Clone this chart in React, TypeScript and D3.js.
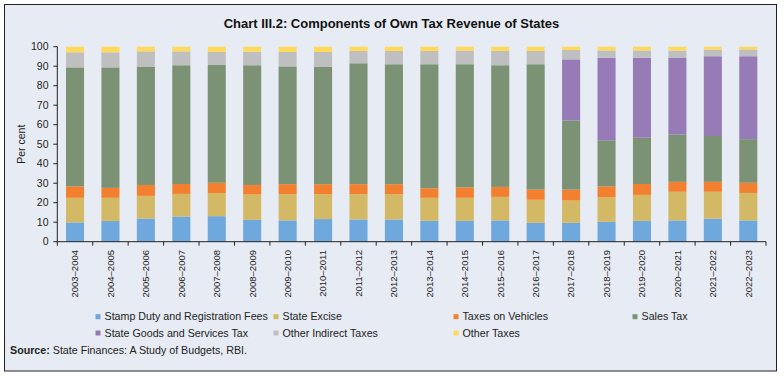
import React from "react";
import * as d3 from "d3";

const years = [
  "2003-2004", "2004-2005", "2005-2006", "2006-2007", "2007-2008",
  "2008-2009", "2009-2010", "2010-2011", "2011-2012", "2012-2013",
  "2013-2014", "2014-2015", "2015-2016", "2016-2017", "2017-2018",
  "2018-2019", "2019-2020", "2020-2021", "2021-2022", "2022-2023",
];

const seriesNames = [
  "Stamp Duty and Registration Fees",
  "State Excise",
  "Taxes on Vehicles",
  "Sales Tax",
  "State Goods and Services Tax",
  "Other Indirect Taxes",
  "Other Taxes",
];

const stampDuty = [9.9, 10.6, 11.9, 12.9, 13.1, 11.2, 10.9, 11.6, 11.4, 11.4, 10.7, 10.7, 10.9, 9.7, 9.7, 10.2, 10.7, 10.9, 11.8, 10.9];
const stateExcise = [12.6, 11.9, 11.6, 11.6, 11.8, 13.0, 13.5, 12.8, 13.0, 13.0, 11.8, 11.8, 12.1, 11.8, 11.4, 12.6, 13.3, 14.7, 13.8, 14.1];
const vehicles = [5.9, 5.1, 5.6, 5.1, 5.3, 4.9, 5.1, 5.1, 5.1, 5.1, 4.9, 5.4, 5.1, 5.2, 5.6, 5.6, 5.6, 5.1, 5.1, 5.2];
const salesTax = [61.0, 61.8, 60.7, 60.9, 60.4, 61.4, 60.4, 60.3, 62.0, 61.5, 63.6, 63.1, 62.4, 64.3, 35.5, 23.6, 23.7, 24.2, 23.5, 22.4];
const sgst = [0, 0, 0, 0, 0, 0, 0, 0, 0, 0, 0, 0, 0, 0, 31.3, 42.4, 41.1, 39.3, 40.9, 42.5];
const otherIndirect = [7.7, 7.7, 7.8, 7.1, 6.7, 6.9, 7.4, 7.5, 6.3, 6.8, 6.8, 7.0, 7.3, 6.8, 4.8, 3.7, 3.7, 3.8, 3.4, 3.5];
const otherTaxes = [2.9, 2.9, 2.4, 2.4, 2.7, 2.6, 2.7, 2.7, 2.2, 2.2, 2.2, 2.0, 2.2, 2.2, 1.7, 1.9, 1.9, 2.0, 1.5, 1.4];

const yTicks = [0, 10, 20, 30, 40, 50, 60, 70, 80, 90, 100];

const colors = ["#6FA8DC", "#D3B865", "#F3802F", "#7B9275", "#967BB6", "#BFBFBF", "#FFD95C"];

const W = 784;
const H = 376;
const FONT = "'Liberation Sans', Arial, Helvetica, sans-serif";

export default function App() {
  const seriesValues = [stampDuty, stateExcise, vehicles, salesTax, sgst, otherIndirect, otherTaxes];
  const table = years.map((y, i) => {
    const row: Record<string, any> = { year: y };
    seriesNames.forEach((s, k) => (row[s] = seriesValues[k][i]));
    return row;
  });
  const stacked = d3.stack<any>().keys(seriesNames)(table);

  const left = 57.3;
  const right = 766;
  const top = 46.7;
  const bottom = 241.7;

  const x = d3.scaleBand<string>().domain(years).range([left, right]).padding(0);
  const y = d3.scaleLinear().domain([0, 100]).range([bottom, top]);
  const bw = x.bandwidth() * 0.51;

  const legendCols = [98, 276, 456, 635];
  const legendRows = [316.7, 333];

  return (
    <svg
      width={W}
      height={H}
      style={{ position: "absolute", left: 0, top: 0 }}
      fontFamily={FONT}
    >
      <rect x={0} y={0} width={W} height={H} fill="#ffffff" />
      <rect x={4.5} y={4.5} width={772} height={366.5} fill="#E7ECF4" stroke="#222" strokeWidth={1} />
      <text x={391.5} y={27.5} textAnchor="middle" fontSize={13} fontWeight="bold" fill="#111">
        Chart III.2: Components of Own Tax Revenue of States
      </text>

      {stacked.map((layer, k) => (
        <g key={k} fill={colors[k]}>
          {layer.map((d, i) => {
            const h = y(d[0]) - y(d[1]);
            if (h <= 0) return null;
            return (
              <rect
                key={i}
                x={(x(years[i]) as number) + (x.bandwidth() - bw) / 2}
                y={y(d[1])}
                width={bw}
                height={h}
              />
            );
          })}
        </g>
      ))}

      {/* Y axis */}
      <line x1={left} x2={left} y1={top} y2={bottom} stroke="#222" strokeWidth={1} />
      {yTicks.map((t) => (
        <g key={t}>
          <line x1={left - 4} x2={left} y1={y(t)} y2={y(t)} stroke="#222" strokeWidth={1} />
          <text x={48.5} y={y(t)} dy="0.35em" textAnchor="end" fontSize={10.5} fill="#222">
            {t}
          </text>
        </g>
      ))}
      <text
        transform={`translate(21,${(top + bottom) / 2}) rotate(-90)`}
        textAnchor="middle"
        dy="0.35em"
        fontSize={10.5}
        fill="#222"
      >
        Per cent
      </text>

      {/* X axis */}
      <line x1={left} x2={right} y1={bottom} y2={bottom} stroke="#222" strokeWidth={1} />
      {years.map((yr, i) => (
        <line
          key={"t" + i}
          x1={x(yr) as number}
          x2={x(yr) as number}
          y1={bottom}
          y2={bottom + 4}
          stroke="#222"
          strokeWidth={1}
        />
      ))}
      <line x1={right} x2={right} y1={bottom} y2={bottom + 4} stroke="#222" strokeWidth={1} />
      {years.map((yr) => (
        <text
          key={"l" + yr}
          transform={`translate(${(x(yr) as number) + x.bandwidth() / 2},250) rotate(-90)`}
          textAnchor="end"
          dy="0.35em"
          fontSize={9.5}
          fill="#222"
        >
          {yr.replace("-", "–")}
        </text>
      ))}

      {/* Legend */}
      {seriesNames.map((s, k) => {
        const col = legendCols[k % 4];
        const row = legendRows[Math.floor(k / 4)];
        return (
          <g key={s}>
            <rect x={col - 2.5} y={row - 2.5} width={5} height={5} fill={colors[k]} />
            <text x={col + 6.5} y={row} dy="0.35em" fontSize={10.7} fill="#222">
              {s}
            </text>
          </g>
        );
      })}

      <text x={10} y={354} fontSize={10.7} fill="#222">
        <tspan fontWeight="bold">Source:</tspan>
        <tspan> State Finances: A Study of Budgets, RBI.</tspan>
      </text>
    </svg>
  );
}
